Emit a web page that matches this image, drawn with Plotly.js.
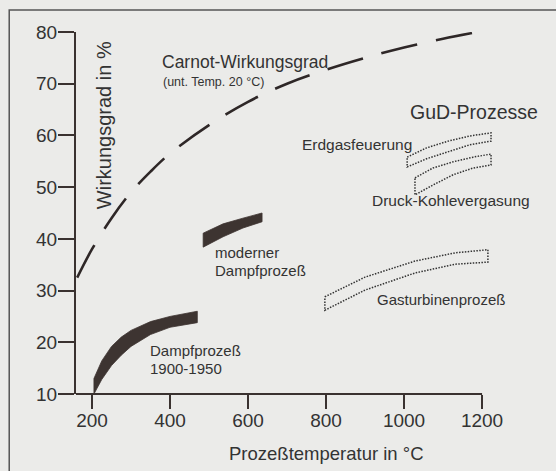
<!DOCTYPE html>
<html>
<head>
<meta charset="utf-8">
<script src="https://cdn.plot.ly/plotly-3.0.1.min.js"></script>
<style>
  html, body { margin: 0; padding: 0; background: #ebebe9; }
  #chart { width: 556px; height: 471px; }
</style>
</head>
<body>
<div id="chart"></div>
<script>
// ---- data ----
const xTicks = [200, 400, 600, 800, 1000, 1200];
const yTicks = [10, 20, 30, 40, 50, 60, 70, 80];

// Carnot efficiency (lower temperature 20 °C)
const carnotT   = [162, 200, 250, 300, 350, 400, 500, 600, 700, 800, 900, 1000, 1100, 1175];
const carnotEta = [32.5, 38, 44, 49, 53, 56.5, 62, 66.5, 70, 72.7, 75, 77, 78.7, 79.8];

// Dampfprozeß 1900-1950 (band)
const oldSteamT    = [205, 225, 250, 275, 300, 350, 400, 470];
const oldSteamLow  = [10, 12.8, 15.5, 17.5, 19.2, 21.5, 22.9, 23.8];
const oldSteamHigh = [13, 16.4, 19.2, 21.0, 22.3, 24.0, 25.0, 26.0];

// moderner Dampfprozeß (band)
const modSteamT    = [485, 536, 587, 636];
const modSteamLow  = [38.4, 40.4, 42.1, 43.3];
const modSteamHigh = [41.1, 42.9, 44.0, 45.0];

// Gasturbinenprozeß (band)
const gtT    = [797, 900, 1028, 1131, 1215];
const gtLow  = [26.2, 30.1, 33.4, 35.1, 35.5];
const gtHigh = [28.8, 32.6, 35.7, 37.3, 37.9];

// GuD – Erdgasfeuerung (band)
const gudGasT    = [1008, 1058, 1113, 1169, 1223];
const gudGasLow  = [53.9, 55.5, 56.8, 58.2, 58.9];
const gudGasHigh = [55.8, 57.6, 58.9, 59.9, 60.5];

// GuD – Druck-Kohlevergasung (band)
const gudCoalT    = [1028, 1074, 1126, 1177, 1223];
const gudCoalLow  = [48.5, 50.4, 52.4, 53.7, 54.3];
const gudCoalHigh = [51.8, 53.7, 54.9, 55.8, 56.4];

// ---- build traces ----
function bandXY(T, lo, hi) {
  const x = T.concat(T.slice().reverse(), [T[0]]);
  const y = hi.concat(lo.slice().reverse(), [hi[0]]);
  return {x, y};
}

const ink = '#3a3230';
const FONT = 'Liberation Sans, Arial, Helvetica, sans-serif';

function solidBand(T, lo, hi, name) {
  const b = bandXY(T, lo, hi);
  return {x: b.x, y: b.y, name, type: 'scatter', mode: 'lines', fill: 'toself',
          fillcolor: '#3d3431', line: {color: '#3d3431', width: 0.8}, hoverinfo: 'skip'};
}
function dottedBand(T, lo, hi, name) {
  const b = bandXY(T, lo, hi);
  return {x: b.x, y: b.y, name, type: 'scatter', mode: 'lines',
          line: {color: '#333', width: 1.5, dash: '1.5px,1.4px'}, hoverinfo: 'skip'};
}

const traces = [
  {x: carnotT, y: carnotEta, name: 'Carnot-Wirkungsgrad', type: 'scatter', mode: 'lines',
   line: {color: '#2e2727', width: 2.6, dash: '37px,19px', shape: 'spline'}, hoverinfo: 'skip'},
  solidBand(oldSteamT, oldSteamLow, oldSteamHigh, 'Dampfprozeß 1900-1950'),
  solidBand(modSteamT, modSteamLow, modSteamHigh, 'moderner Dampfprozeß'),
  dottedBand(gtT, gtLow, gtHigh, 'Gasturbinenprozeß'),
  dottedBand(gudGasT, gudGasLow, gudGasHigh, 'Erdgasfeuerung'),
  dottedBand(gudCoalT, gudCoalLow, gudCoalHigh, 'Druck-Kohlevergasung')
];

function label(text, x, y, size, extra) {
  return Object.assign({text, x, y, xref: 'x', yref: 'y', showarrow: false,
    xanchor: 'left', yanchor: 'middle', borderpad: 0,
    font: {family: FONT, size, color: '#333'}}, extra || {});
}

const annotations = [
  label('Carnot-Wirkungsgrad', 378, 74.2, 17.5),
  label('(unt. Temp. 20 °C)', 380, 70.3, 12.5),
  label('GuD-Prozesse', 1013, 64.5, 19.5),
  label('Erdgasfeuerung', 736, 58.2, 15.5),
  label('Druck-Kohlevergasung', 916, 47.5, 15.5),
  label('moderner', 513, 37.3, 15),
  label('Dampfprozeß', 513, 33.8, 15),
  label('Gasturbinenprozeß', 929, 28.2, 15),
  label('Dampfprozeß', 347, 18.5, 15),
  label('1900-1950', 347, 15.0, 15),
  label('Wirkungsgrad in %', 231, 62.0, 20, {xanchor: 'center', textangle: -90}),
  label('Prozeßtemperatur in °C', 800, -0.163, 18.5, {xanchor: 'center', yref: 'paper'})
];

const xRange = [159, 1246];
const yRange = [10, 80];

const axisCommon = {
  ticks: 'outside', tickwidth: 2, tickcolor: ink,
  showgrid: false, zeroline: false, fixedrange: true,
  tickfont: {family: FONT, size: 19, color: '#333'}
};

const layout = {
  width: 556, height: 471,
  margin: {l: 76, r: 56, t: 32, b: 77, pad: 0},
  paper_bgcolor: '#ebebe9', plot_bgcolor: '#ebebe9',
  showlegend: false,
  xaxis: Object.assign({}, axisCommon, {range: xRange, tickmode: 'array', tickvals: xTicks,
                                         ticktext: xTicks.map(String), ticklen: 14,
                                         showline: false, ticklabelstandoff: -5}),
  yaxis: Object.assign({}, axisCommon, {range: yRange, tickmode: 'array', tickvals: yTicks,
                                         ticktext: yTicks.map(String), ticklen: 16,
                                         showline: true, linecolor: ink, linewidth: 2,
                                         ticklabelstandoff: -3}),
  annotations,
  shapes: [
    // x axis line, ending at the last tick (1200 °C)
    {type: 'line', xref: 'paper', yref: 'paper', x0: 0,
     x1: (xTicks[xTicks.length - 1] - xRange[0]) / (xRange[1] - xRange[0]), y0: 0, y1: 0,
     line: {color: ink, width: 2}},
    // outer frame of the figure
    {type: 'rect', xref: 'paper', yref: 'paper', x0: -0.1575, x1: 1.3, y0: -0.35, y1: 1.0608,
     line: {color: '#555', width: 1.5}, fillcolor: 'rgba(0,0,0,0)'}
  ]
};

Plotly.newPlot('chart', traces, layout, {staticPlot: true, displayModeBar: false});
</script>
</body>
</html>
